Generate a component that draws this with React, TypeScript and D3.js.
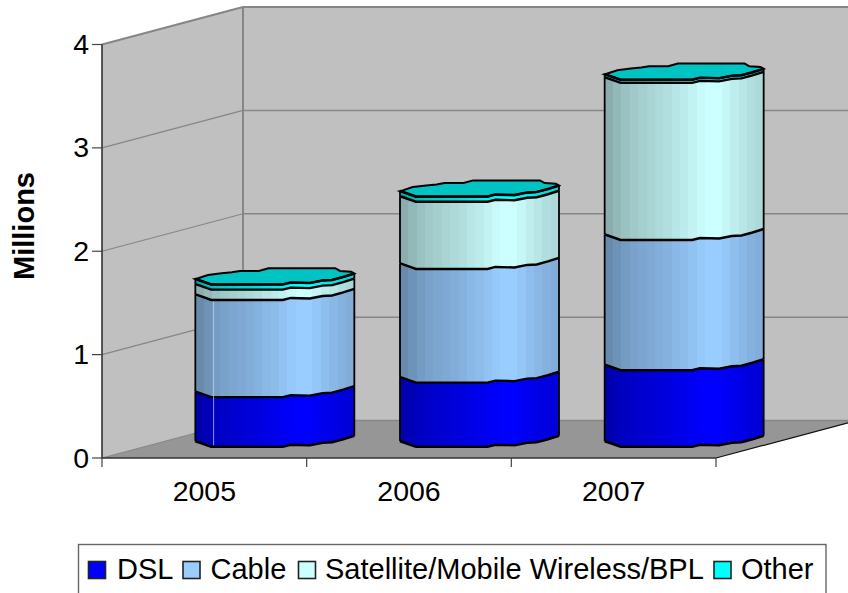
import React from "react";
import * as d3 from "d3";

// Broadband lines by technology, millions
const years = ["2005", "2006", "2007"];
const seriesNames = ["DSL", "Cable", "Satellite/Mobile Wireless/BPL", "Other"];
const dsl = [0.48, 0.62, 0.74];
const cable = [0.94, 1.1, 1.26];
const satellite = [0.1, 0.65, 1.52];
const other = [0.05, 0.05, 0.03];
const yTicks = [0, 1, 2, 3, 4];

const seriesColors = ["#0000ff", "#99ccff", "#ccffff", "#00ffff"];
const capColor = "#00c4c4";

// Faceted outline of a cylinder section: [fraction of width, vertical offset]
const frontEdge: [number, number][] = [
  [0, 2], [0.02, 3], [0.1, 7.5], [0.33, 7.5], [0.55, 7.5], [0.6, 5.5], [0.72, 6],
  [0.8, 3.5], [0.86, 3], [0.93, 0], [1, -3.5],
];
const backEdge: [number, number][] = [
  [0, 2], [0.017, 1.3], [0.08, -2], [0.165, -3.7], [0.23, -4.7], [0.28, -6], [0.4, -6],
  [0.46, -8.7], [0.88, -8.7], [0.91, -6], [0.98, -5.3], [1, -3.5],
];
// Brightness of each facet across the cylinder
const facetShade = [0.68, 0.72, 0.76, 0.79, 0.81, 0.83, 0.85, 0.87, 0.9, 0.92, 0.95, 0.98, 1, 1, 0.97, 0.93, 0.9, 0.87, 0.85];

const W = 848;
const H = 593;
const depthX = 141;
const depthY = -37.5;
const barWidth = 159;

const x = d3.scaleBand().domain(years).range([102, 716]);
const y = d3.scaleLinear().domain([0, 4]).range([458, 44.5]);
const outline = d3.line<[number, number]>().x((d) => d[0]).y((d) => d[1]);

const stacked = d3.stack<number>()
  .keys(["0", "1", "2", "3"])
  .value((i, k) => [dsl, cable, satellite, other][+k][i])(years.map((_, i) => i));

function scaleColor(c: string, f: number) {
  const r = d3.rgb(c);
  return d3.rgb(r.r * f, r.g * f, r.b * f).formatHex();
}

function edgePoints(edge: [number, number][], left: number, cy: number): [number, number][] {
  return edge.map(([u, o]) => [left + u * barWidth, cy + o]);
}

function Cylinder({ index }: { index: number }) {
  const left = x(years[index])! + x.bandwidth() / 2 + depthX / 2 - barWidth / 2;
  const yAt = (v: number) => y(v) + depthY / 2;
  const top = stacked[3][index][1];
  return (
    <g>
      {stacked.map((layer, k) => {
        const [v0, v1] = layer[index];
        const lower = edgePoints(frontEdge, left, yAt(v0));
        const upper = edgePoints(frontEdge, left, yAt(v1)).reverse();
        return (
          <g key={k}>
            <path d={outline([...lower, ...upper])! + "Z"} fill={`url(#shade${k})`} stroke="none" />
            <path d={outline([lower[0], upper[upper.length - 1]])!} stroke="#000" strokeWidth={1.8} />
            <path d={outline([lower[lower.length - 1], upper[0]])!} stroke="#000" strokeWidth={1.8} />
            <path d={outline(lower)!} fill="none" stroke="#000" strokeWidth={2.4} />
          </g>
        );
      })}
      {index === 0 && (
        <line
          x1={left + 0.115 * barWidth}
          x2={left + 0.115 * barWidth}
          y1={yAt(stacked[1][index][1]) + 9}
          y2={yAt(0) + 6}
          stroke="#c8d8f0"
          strokeWidth={1}
          opacity={0.7}
        />
      )}
      <path
        d={outline([...edgePoints(frontEdge, left, yAt(top)), ...edgePoints(backEdge, left, yAt(top)).reverse()])! + "Z"}
        fill={capColor}
        stroke="#000"
        strokeWidth={2}
      />
      <path d={outline(edgePoints(frontEdge, left, yAt(top)))!} fill="none" stroke="#000" strokeWidth={2.6} />
    </g>
  );
}

export default function App() {
  const fontFamily = "'Liberation Sans', Arial, sans-serif";
  const floorRightY = y(0) + (depthY * (W - 716)) / depthX;
  const legendItems = [
    { sx: 88.5, tx: 117 },
    { sx: 183, tx: 210.5 },
    { sx: 298.5, tx: 325 },
    { sx: 714, tx: 741 },
  ];
  return (
    <svg width={W} height={H} style={{ position: "absolute", left: 0, top: 0, display: "block" }} fontFamily={fontFamily}>
      <defs>
        {seriesColors.map((c, k) => (
          <linearGradient id={`shade${k}`} key={k} x1="0" x2="1" y1="0" y2="0">
            {facetShade.flatMap((f, i) => [
              <stop key={`${i}a`} offset={i / facetShade.length} stopColor={scaleColor(c, f)} />,
              <stop key={`${i}b`} offset={(i + 1) / facetShade.length} stopColor={scaleColor(c, f)} />,
            ])}
          </linearGradient>
        ))}
      </defs>
      <rect width={W} height={H} fill="#fff" />

      {/* walls and floor */}
      <path
        d={`M102,${y(4)}L${102 + depthX},${y(4) + depthY}L${102 + depthX},${y(0) + depthY}L102,${y(0)}Z`}
        fill="#c0c0c0"
      />
      <rect x={102 + depthX} y={y(4) + depthY} width={W - 102 - depthX} height={y(0) - y(4)} fill="#c0c0c0" />
      <path
        d={`M102,${y(0)}L${102 + depthX},${y(0) + depthY}L${W},${y(0) + depthY}L${W},${floorRightY}L716,${y(0)}Z`}
        fill="#969696"
      />

      {/* gridlines */}
      {yTicks.map((t) => (
        <g key={t} stroke="#868686" fill="none">
          <path d={`M102,${y(t)}L${102 + depthX},${y(t) + depthY}`} strokeWidth={t === 4 ? 2 : 1.2} />
          <path d={`M${102 + depthX},${y(t) + depthY}L${W},${y(t) + depthY}`} strokeWidth={t === 4 ? 2 : 1.5} />
        </g>
      ))}
      <path d={`M${102 + depthX},${y(4) + depthY}V${y(0) + depthY}`} stroke="#868686" strokeWidth={2} />

      {/* floor edges */}
      <path d={`M716,${y(0)}L${W},${floorRightY}`} stroke="#111" strokeWidth={1.2} fill="none" />

      {years.map((_, i) => (
        <Cylinder key={i} index={i} />
      ))}

      {/* axes */}
      <path d={`M102,${y(4)}V${y(0)}H716`} stroke="#333" strokeWidth={1.6} fill="none" />
      {yTicks.map((t) => (
        <g key={t}>
          <line x1={92} x2={102} y1={y(t)} y2={y(t)} stroke="#444" strokeWidth={1.2} />
          <text x={89} y={y(t) + 9.5} textAnchor="end" fontSize={28.5}>{t}</text>
        </g>
      ))}
      {[...years.map((d) => x(d)!), 716].map((tx) => (
        <line key={tx} x1={tx} x2={tx} y1={y(0)} y2={467} stroke="#444" strokeWidth={1.2} />
      ))}
      {years.map((d) => (
        <text key={d} x={x(d)! + x.bandwidth() / 2} y={501} textAnchor="middle" fontSize={28.5}>{d}</text>
      ))}
      <text
        transform="translate(33.5,226) rotate(-90)"
        textAnchor="middle"
        fontSize={29}
        fontWeight="bold"
      >
        Millions
      </text>

      {/* legend */}
      <rect x={78.5} y={544.5} width={747.5} height={60} fill="#fff" stroke="#666" strokeWidth={1.4} />
      {seriesNames.map((name, k) => (
        <g key={name}>
          <rect
            x={legendItems[k].sx}
            y={561.5}
            width={17}
            height={17}
            fill={seriesColors[k]}
            stroke="#222"
            strokeWidth={1.6}
          />
          <text x={legendItems[k].tx} y={579} fontSize={29}>{name}</text>
        </g>
      ))}
    </svg>
  );
}
